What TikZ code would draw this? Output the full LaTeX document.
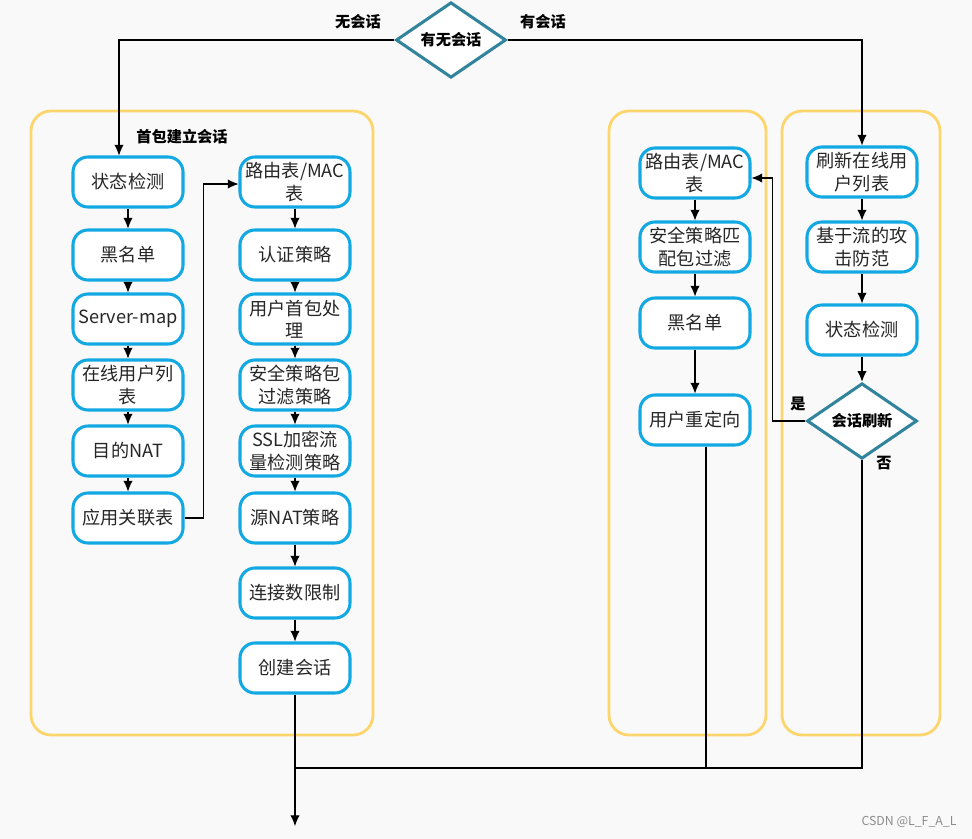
\documentclass[tikz,border=0pt]{standalone}
\usepackage{fontspec}
\setmainfont{Noto Sans CJK SC}
\usepackage{xcolor}
\usepackage{tikz}
\usetikzlibrary{arrows.meta,shapes.geometric,positioning}
\definecolor{boxblue}{HTML}{12A8E2}
\definecolor{teal}{HTML}{31849B}
\definecolor{panelyellow}{HTML}{FCD56C}
\definecolor{bgcol}{HTML}{F9F9F9}

\begin{document}
\begin{tikzpicture}[x=0.03cm,y=-0.03cm]
        \tikzstyle{every node}+=[inner sep=0pt]
        \tikzstyle{stepbox}=[draw=boxblue, line width=2.6pt, fill=white, rounded corners=0.45cm,
            minimum width=3.3cm, minimum height=1.5cm, align=center, text=black!85,
            font=\fontsize{15.5}{19}\selectfont]
        \tikzstyle{decide}=[draw=teal, line width=2.6pt, diamond, fill=white,
            minimum width=3.3cm, minimum height=1.95cm, font=\bfseries\fontsize{13}{15}\selectfont]
        \tikzstyle{panel}=[draw=panelyellow, line width=2.4pt, rounded corners=0.6cm]
        \tikzstyle{arr}=[-{Latex[length=0.32cm,width=0.28cm]}, line width=0.9pt]
        \tikzstyle{lbl}=[font=\bfseries\fontsize{13}{15}\selectfont]
        \useasboundingbox[fill=bgcol] (0,0) rectangle (972,839);
        \draw [panel] (31,111) rectangle (373,735);
        \draw [panel] (609,111) rectangle (766,735);
        \draw [panel] (782,111) rectangle (940,735);
        \node [decide] (dtop) at (451,40) {有无会话};
        \node [lbl] (nosess) at (358,22) {无会话};
        \node [lbl] (hassess) at (543,22) {有会话};
        \node [lbl] (first) at (182,137) {首包建立会话};
        % first packet: left column
        \node [stepbox] (s1) at (128,182) {状态检测};
        \node [stepbox] (s2) at (128,255) {黑名单};
        \node [stepbox] (s3) at (128,319) {Server-map};
        \node [stepbox] (s4) at (128,385) {在线用户列\\表};
        \node [stepbox] (s5) at (128,451) {目的NAT};
        \node [stepbox] (s6) at (128,518) {应用关联表};
        % first packet: middle column
        \node [stepbox] (m1) at (295,182) {路由表/MAC\\表};
        \node [stepbox] (m2) at (295,255) {认证策略};
        \node [stepbox] (m3) at (295,319) {用户首包处\\理};
        \node [stepbox] (m4) at (295,385) {安全策略包\\过滤策略};
        \node [stepbox] (m5) at (295,451) {SSL加密流\\量检测策略};
        \node [stepbox] (m6) at (295,518) {源NAT策略};
        \node [stepbox] (m7) at (295,593) {连接数限制};
        \node [stepbox] (m8) at (295,668) {创建会话};
        % follow-up packets
        \node [stepbox] (r1) at (695,173) {路由表/MAC\\表};
        \node [stepbox] (r2) at (695,247) {安全策略匹\\配包过滤};
        \node [stepbox] (r3) at (695,323) {黑名单};
        \node [stepbox] (r4) at (695,420) {用户重定向};
        \node [stepbox] (f1) at (862,172) {刷新在线用\\户列表};
        \node [stepbox] (f2) at (862,247) {基于流的攻\\击防范};
        \node [stepbox] (f3) at (862,330) {状态检测};
        \node [decide] (dflush) at (862,421) {会话刷新};
        \node [lbl] (yes) at (798,404) {是};
        \node [lbl] (no) at (884,463) {否};
        \coordinate (join) at (295,768);
        \coordinate (out) at (295,826);
        % connectors
        \draw [arr] (dtop.west) -| ([xshift=-0.27cm]s1.north);
        \draw [arr] (dtop.east) -| (f1.north);
        \foreach \a/\b in {s1/s2,s2/s3,s3/s4,s4/s5,s5/s6,m1/m2,m2/m3,m3/m4,m4/m5,m5/m6,m6/m7,m7/m8,r1/r2,r2/r3,r3/r4,f1/f2,f2/f3,f3/dflush}
          \draw [arr] (\a) -- (\b);
        \draw [arr] (s6.east) -- ++(19,0) |- ([yshift=-0.06cm]m1.west);
        \draw [arr] (dflush.west) -- ++(-33,0) |- ([yshift=-0.15cm]r1.east);
        \draw [line width=0.9pt] ([xshift=0.33cm]r4.south) |- (join);
        \draw [line width=0.9pt] (dflush.south) |- (join);
        \draw [arr] (m8) -- (out);
        \node [text=black!45, font=\fontsize{10.5}{12}\selectfont] (mark) at (909,822) {CSDN @L\_F\_A\_L};
\end{tikzpicture}
\end{document}
